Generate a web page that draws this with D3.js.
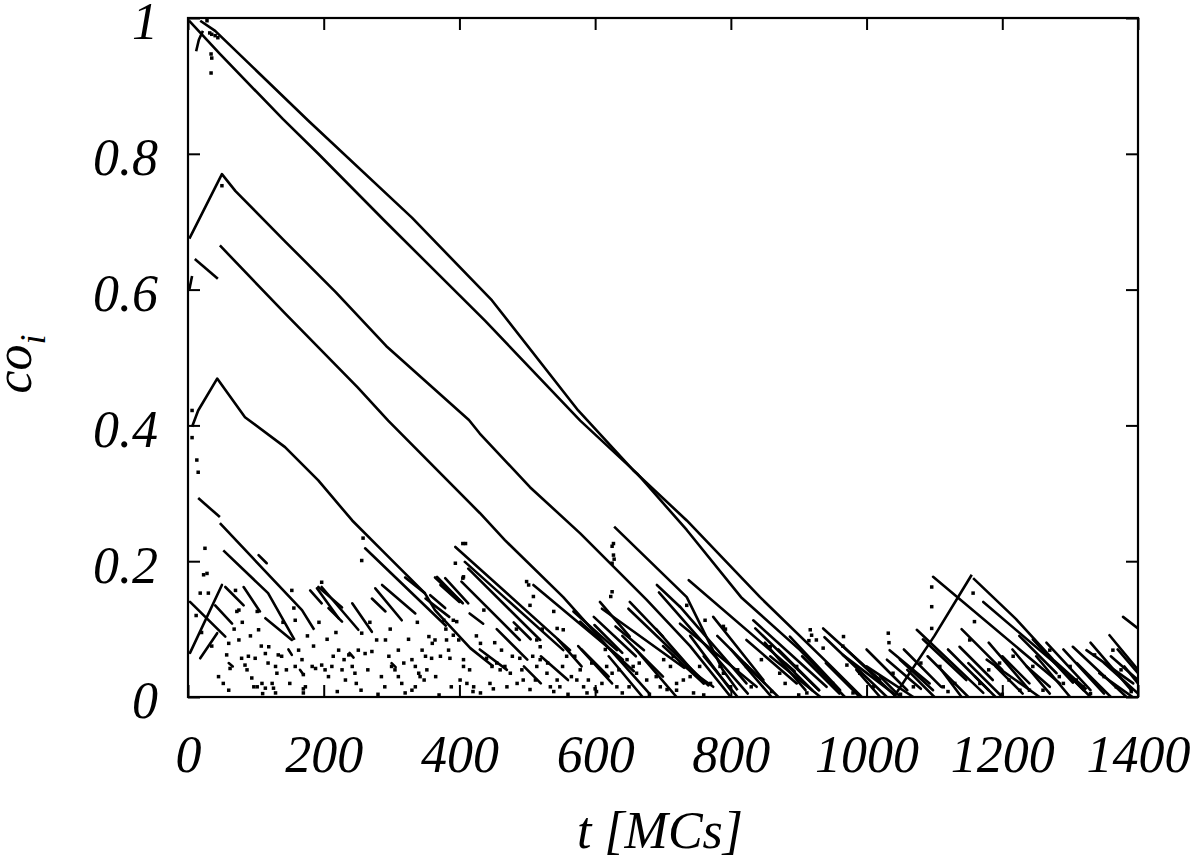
<!DOCTYPE html>
<html>
<head>
<meta charset="utf-8">
<script src="https://cdn.jsdelivr.net/npm/d3@7"></script>
<style>
  body { margin: 0; background: #fff; }
  text { font-family: "Liberation Serif", "DejaVu Serif", serif; font-style: italic; }
</style>
</head>
<body>
<svg id="chart" width="1200" height="862"></svg>
<script>
// tick values
const xTicks = [0, 200, 400, 600, 800, 1000, 1200, 1400];
const yTicks = [0, 0.2, 0.4, 0.6, 0.8, 1];

// long trajectories [t, co]
const longLines = [
  [[18,0.996],[40,0.981],[177,0.849],[330,0.706],[448,0.584],[575,0.422],[656,0.334],[735,0.260],[843,0.147],[946,0.047],[993,0]],
  [[1.5,0.996],[47,0.947],[140,0.851],[192,0.800],[290,0.701],[438,0.554],[578,0.407],[662,0.329],[735,0.246],[815,0.147],[902,0.069],[968,0]],
  [[2,0.675],[50,0.770],[70,0.745],[144,0.670],[218,0.596],[292,0.517],[414,0.408],[430,0.388],[504,0.309],[578,0.241],[676,0.143],[740,0.075],[800,0]],
  [[47,0.665],[143,0.565],[250,0.456],[295,0.407],[430,0.271],[467,0.231],[553,0.147],[640,0.05],[680,0.005]],
  [[10,0.645],[44,0.616]],
  [[2,0.600],[6,0.620]],
  [[6,0.398],[15,0.422],[43,0.469],[84,0.412],[143,0.368],[192,0.319],[242,0.260],[290,0.212],[349,0.153],[364,0.128],[416,0.072],[450,0.045]],
  [[15,0.293],[47,0.265]],
  [[47,0.256],[168,0.128],[186,0.099]],
  [[52,0.216],[118,0.153],[157,0.084]],
  [[12,0.951],[16,0.968],[22,0.981]],
  [[628,0.251],[735,0.147],[788,0.040],[810,0.01]],
  [[1040,0.0],[1100,0.09],[1155,0.180]],
  [[1157,0.175],[1220,0.115],[1275,0.055],[1324,0.011]]
];

// short fragments [t0, co0, t1, co1]
const shortSegs = [
  [3,0.140,55,0.089],[40,0.135,65,0.108],[55,0.162,82,0.135],[82,0.162,106,0.126],
  [114,0.116,153,0.084],[104,0.209,116,0.197],[180,0.157,197,0.138],[190,0.160,222,0.116],
  [197,0.162,251,0.099],[207,0.131,227,0.111],[242,0.138,271,0.096],[271,0.145,291,0.126],
  [276,0.160,315,0.113],[286,0.165,335,0.123],[261,0.219,380,0.105],
  [3,0.065,50,0.165],[18,0.057,43,0.094],[320,0.176,349,0.153],[192,0.162,227,0.132],
  [148,0.070,153,0.062],[60,0.050,66,0.045],[165,0.040,170,0.033],[238,0.065,244,0.058],[300,0.050,306,0.044],
  [364,0.176,405,0.138],[367,0.177,403,0.140],[379,0.175,413,0.138],[357,0.150,379,0.131],
  [372,0.165,400,0.140],[350,0.145,385,0.118],
  [394,0.221,563,0.069],[408,0.199,553,0.069],[413,0.189,519,0.084],[403,0.170,489,0.084],
  [509,0.165,641,0.055],[607,0.140,651,0.089],[568,0.126,632,0.069],[598,0.118,660,0.060],
  [630,0.104,672,0.069],[651,0.140,700,0.089],[691,0.165,725,0.133],[480,0.110,505,0.085],
  [415,0.123,435,0.108],[545,0.085,580,0.045],
  [738,0.172,894,0.038],[694,0.154,825,0.005],[649,0.130,767,0.017],[610,0.130,731,0.043],
  [578,0.111,657,0.038],[599,0.106,640,0.065],[833,0.113,941,0.015],[836,0.101,930,0.010],
  [936,0.101,1020,0.025],[966,0.074,1044,0.0],[1034,0.069,1093,0.020],[725,0.108,838,0.015],
  [725,0.133,823,0.020],[823,0.084,897,0.020],[887,0.089,961,0.010],[858,0.060,932,0.0],
  [774,0.118,848,0.025],[725,0.050,774,0.015],[1000,0.045,1069,0.0],[938,0.088,1030,0.0],
  [965,0.062,1040,0.005],[1030,0.055,1080,0.012],[780,0.090,850,0.020],[700,0.075,760,0.020],
  [905,0.060,960,0.005],
  [1098,0.177,1285,0.020],[1172,0.140,1295,0.035],[1074,0.099,1172,0.006],[1083,0.085,1147,0.025],
  [1049,0.055,1098,0.010],[1137,0.074,1186,0.025],[1177,0.055,1255,0.0],[1236,0.045,1270,0.015],
  [1304,0.074,1383,0.0],[1324,0.069,1393,0.020],[1358,0.091,1400,0.040],[1378,0.118,1400,0.101],
  [1343,0.035,1392,0.0],[1245,0.085,1304,0.021],[1200,0.060,1240,0.020],[1280,0.050,1320,0.010],
  [1300,0.030,1330,0.0],[1360,0.060,1400,0.025],[1020,0.030,1050,0.0],[1110,0.040,1140,0.0],
  [1160,0.030,1190,0.0],
  [870,0.070,930,0.010],[880,0.050,920,0.010],[940,0.050,990,0.0],[985,0.040,1020,0.0],
  [1000,0.070,1060,0.010],[1055,0.070,1110,0.015],[1060,0.040,1100,0.0],[1090,0.060,1150,0.0],
  [1120,0.070,1180,0.010],[1150,0.050,1200,0.0],[1180,0.080,1240,0.010],[1190,0.045,1230,0.005],
  [1215,0.070,1270,0.005],[1250,0.060,1300,0.0],[1265,0.080,1330,0.010],[1290,0.070,1350,0.005],
  [1310,0.050,1360,0.0],[1330,0.080,1390,0.010],[1350,0.050,1400,0.005],[1370,0.070,1400,0.035],
  [1380,0.045,1400,0.020],[1225,0.090,1280,0.035],[1140,0.100,1200,0.040],
  [660,0.070,720,0.0],[690,0.100,760,0.020],[740,0.090,800,0.010],[760,0.060,810,0.0],
  [800,0.070,860,0.0],[820,0.050,870,0.0],[850,0.080,910,0.010],[620,0.060,670,0.0],
  [575,0.075,625,0.020],[640,0.090,700,0.030],
  [455,0.100,500,0.055],[520,0.060,560,0.025],[430,0.070,470,0.040],[580,0.070,620,0.030],[495,0.045,520,0.020]
];

// isolated points [t, co]
const dots = [
  [32,0.978],[35,0.976],[40,0.974],[44,0.971],[34,0.947],[35,0.941],[34,0.919],[28,0.996],
  [6,0.422],[6,0.382],[13,0.349],[15,0.331],[50,0.753],
  [25,0.219],[23,0.180],[28,0.182],[18,0.153],[30,0.153],[70,0.157],[72,0.126],[75,0.128],
  [102,0.126],[104,0.099],[60,0.079],[57,0.062],[62,0.042],[75,0.084],[79,0.057],[84,0.047],
  [87,0.040],[89,0.060],[99,0.057],[94,0.028],[97,0.015],[102,0.015],[109,0.020],[114,0.013],
  [124,0.020],[126,0.013],[129,0.006],[114,0.064],[119,0.074],[133,0.062],[138,0.060],[129,0.045],
  [131,0.035],[153,0.157],[156,0.131],[158,0.113],[163,0.069],[168,0.055],[170,0.033],[173,0.015],
  [170,0.006],[183,0.045],[188,0.042],[197,0.047],[202,0.040],[207,0.030],[212,0.045],[214,0.060],
  [222,0.069],[227,0.040],[232,0.025],[237,0.062],[242,0.045],[246,0.035],[251,0.069],[256,0.094],
  [261,0.064],[271,0.067],[278,0.084],[291,0.084],[296,0.060],[300,0.045],[305,0.040],[310,0.030],
  [315,0.020],[320,0.006],[330,0.055],[335,0.045],[340,0.035],[345,0.069],[350,0.060],[355,0.089],
  [360,0.079],[335,0.015],[342,0.030],[310,0.069],
  [258,0.234],[256,0.201],[405,0.226],[394,0.197],[405,0.175],[197,0.169],
  [409,0.226],[406,0.177],[499,0.170],[502,0.165],[509,0.148],[504,0.135],[539,0.126],
  [544,0.101],[553,0.099],[627,0.226],[627,0.209],[625,0.197],[625,0.155],[436,0.128],[431,0.079],
  [377,0.113],[391,0.113],[396,0.111],[364,0.084],[381,0.084],[384,0.069],[391,0.091],[399,0.084],
  [359,0.057],[386,0.057],[406,0.055],[406,0.045],[401,0.025],[411,0.020],[421,0.015],[431,0.006],
  [440,0.057],[448,0.045],[455,0.050],[460,0.040],[467,0.045],[475,0.035],[462,0.069],[489,0.057],
  [494,0.025],[485,0.020],[504,0.011],[514,0.045],[519,0.055],[529,0.035],[534,0.015],[544,0.025],
  [519,0.074],[514,0.084],[573,0.025],[583,0.015],[588,0.006],[602,0.008],[617,0.045],[625,0.035],
  [632,0.015],[647,0.055],[656,0.045],[661,0.035],[676,0.025],[696,0.015],[706,0.011],[711,0.045],
  [701,0.055],[720,0.020],[539,0.008],[558,0.060],[578,0.040],
  [735,0.135],[762,0.113],[789,0.104],[792,0.100],[784,0.045],[789,0.035],[754,0.045],[799,0.015],
  [823,0.045],[858,0.074],[917,0.099],[919,0.091],[926,0.084],[936,0.072],[966,0.089],[971,0.047],
  [1032,0.094],[1039,0.035],[1069,0.015],[872,0.035],[897,0.045],[912,0.006],[745,0.006],[730,0.025],
  [1033,0.080],[915,0.083],[965,0.075],[625,0.222],[628,0.203],[623,0.148],
  [1096,0.162],[1096,0.133],[1096,0.101],[1152,0.084],[1159,0.111],[1157,0.153],[1216,0.060],
  [1245,0.045],[1270,0.069],[1300,0.045],[1336,0.062],[1363,0.069],[1108,0.045],[1113,0.015],
  [1167,0.020],[1196,0.050],[1226,0.010],[1309,0.025],[1319,0.015],[1368,0.015],[1284,0.030],
  [60,0.010],[110,0.005],[170,0.012],[220,0.008],[280,0.004],[330,0.010],[370,0.003],[420,0.008],
  [450,0.012],[560,0.004],[600,0.012],[640,0.006],[680,0.004],[720,0.010],[760,0.003],[860,0.008],
  [900,0.003],[980,0.006],[1050,0.004],[1120,0.008],[1200,0.004],[1260,0.010],[1330,0.005],[1390,0.008],
  [12,0.120],[20,0.095],[35,0.075],[45,0.030],[52,0.020],[68,0.100],[80,0.110],[92,0.090],
  [108,0.075],[118,0.050],[140,0.110],[145,0.040],[150,0.020],[158,0.045],[176,0.090],[185,0.075],
  [193,0.110],[205,0.085],[218,0.095],[230,0.055],[248,0.020],[255,0.010],[265,0.040],[268,0.110],
  [285,0.030],[290,0.015],[298,0.100],[318,0.050],[325,0.085],[338,0.110],[348,0.025],[352,0.040],
  [365,0.030],[372,0.060],[380,0.100],[388,0.015],[415,0.040],[425,0.090],[445,0.020],[452,0.080],
  [470,0.015],[478,0.060],[484,0.100],[492,0.040],[508,0.060],[512,0.025],[522,0.100],[530,0.050],
  [548,0.015],[552,0.045],[565,0.030],[570,0.060],[590,0.025],[595,0.050],[610,0.020],[615,0.070],
  [635,0.040],[650,0.015],[665,0.050],[690,0.030],[715,0.060],[740,0.030],[770,0.020],[810,0.040],
  [830,0.015],[845,0.055],[880,0.020],[930,0.040],[950,0.020],[990,0.035],[1010,0.015],[1060,0.030],
  [1080,0.050],[1130,0.020],[1180,0.040],[1210,0.025],[1240,0.010],[1290,0.020],[1350,0.030],[1375,0.040]
];

const margin = {top: 18, right: 62, bottom: 165, left: 188};
const width = 1200 - margin.left - margin.right;
const height = 862 - margin.top - margin.bottom;

const svg = d3.select("#chart");
const g = svg.append("g").attr("transform", `translate(${margin.left},${margin.top})`);

const x = d3.scaleLinear().domain([0, 1400]).range([0, width]);
const y = d3.scaleLinear().domain([0, 1]).range([height, 0]);

svg.append("defs").append("clipPath").attr("id", "clip")
  .append("rect").attr("width", width).attr("height", height);

const plot = g.append("g").attr("clip-path", "url(#clip)");

const line = d3.line().x(d => x(d[0])).y(d => y(d[1]));

plot.selectAll("path.traj")
  .data(longLines)
  .enter().append("path")
  .attr("class", "traj")
  .attr("d", line)
  .attr("fill", "none")
  .attr("stroke", "#000")
  .attr("stroke-width", 2.6)
  .attr("stroke-linejoin", "round");

plot.selectAll("line.seg")
  .data(shortSegs)
  .enter().append("line")
  .attr("class", "seg")
  .attr("x1", d => x(d[0])).attr("y1", d => y(d[1]))
  .attr("x2", d => x(d[2])).attr("y2", d => y(d[3]))
  .attr("stroke", "#000")
  .attr("stroke-width", 2.6)
  .attr("stroke-linecap", "round");

plot.selectAll("rect.dot")
  .data(dots)
  .enter().append("rect")
  .attr("class", "dot")
  .attr("x", d => x(d[0]) - 1.75)
  .attr("y", d => y(d[1]) - 1.75)
  .attr("width", 3.5).attr("height", 3.5)
  .attr("fill", "#000");

// axes with inward ticks
const fmtY = d => d === 0 ? "0" : d === 1 ? "1" : d3.format(".1f")(d);

const xAxis = g.append("g").attr("transform", `translate(0,${height})`)
  .call(d3.axisBottom(x).tickValues(xTicks).tickSizeInner(-12).tickSizeOuter(0).tickPadding(38).tickFormat(d3.format("d")));
const yAxis = g.append("g")
  .call(d3.axisLeft(y).tickValues(yTicks).tickSizeInner(-12).tickSizeOuter(0).tickPadding(30).tickFormat(fmtY));
g.append("g")
  .call(d3.axisTop(x).tickValues(xTicks).tickSizeInner(-12).tickSizeOuter(0).tickFormat(""));
g.append("g").attr("transform", `translate(${width},0)`)
  .call(d3.axisRight(y).tickValues(yTicks).tickSizeInner(-12).tickSizeOuter(0).tickFormat(""));

g.selectAll(".domain").remove();
g.selectAll(".tick line").attr("stroke", "#000").attr("stroke-width", 2);
g.selectAll(".tick text")
  .attr("fill", "#000")
  .style("font-family", "'Liberation Serif', serif")
  .style("font-style", "italic")
  .style("font-size", "52px");
yAxis.selectAll(".tick text").attr("dy", "0.4em");

g.append("rect")
  .attr("width", width).attr("height", height)
  .attr("fill", "none").attr("stroke", "#000").attr("stroke-width", 2.2);

// axis titles
svg.append("text")
  .attr("x", margin.left + width / 2 - 3)
  .attr("y", 848)
  .attr("text-anchor", "middle")
  .style("font-size", "52px")
  .text("t [MCs]");

const yl = svg.append("text")
  .attr("transform", "translate(31,364) rotate(-90)")
  .attr("text-anchor", "middle")
  .style("font-size", "52px");
yl.append("tspan").text("co");
yl.append("tspan").attr("dy", 14).style("font-size", "36px").text("i");
</script>
</body>
</html>
